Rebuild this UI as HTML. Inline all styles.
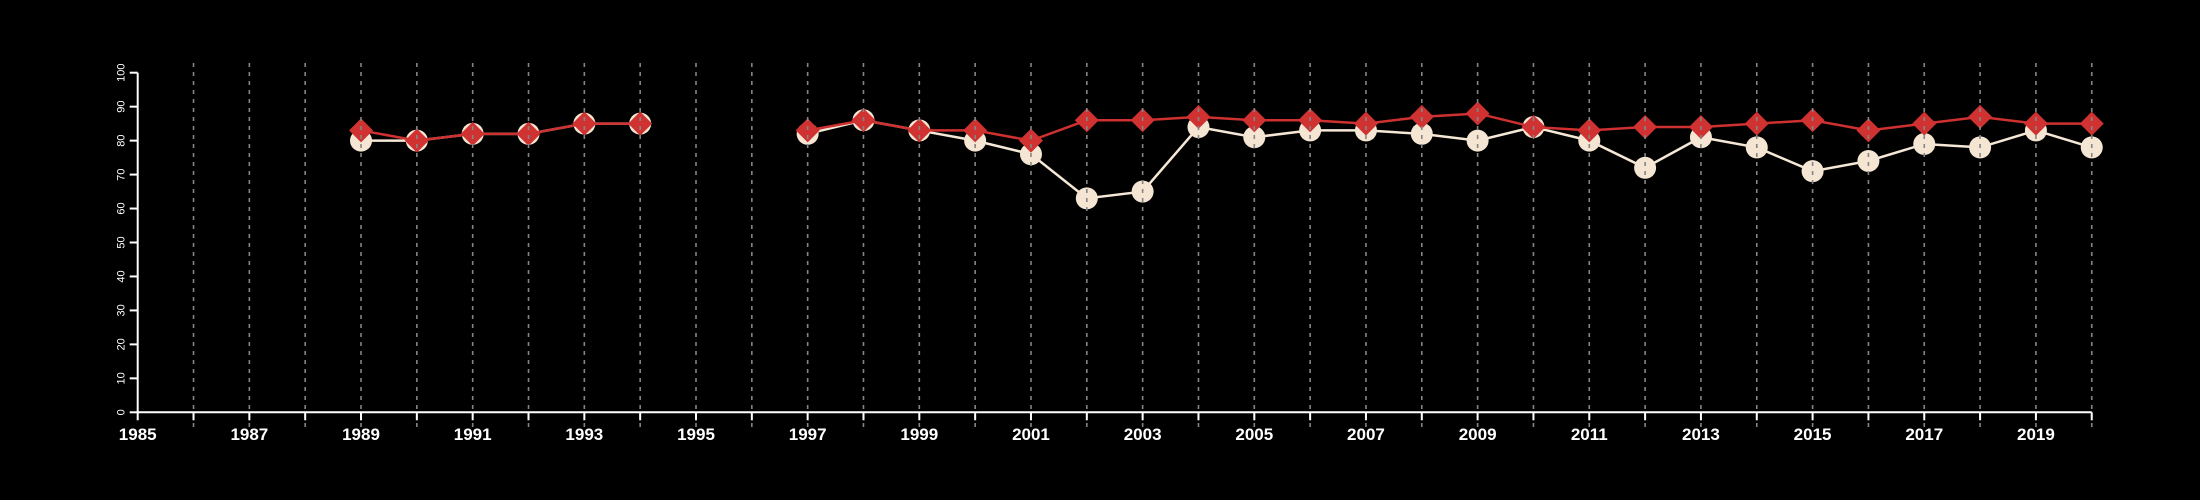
<!DOCTYPE html>
<html><head><meta charset="utf-8">
<style>
html,body{margin:0;padding:0;background:#000;}
svg{display:block;font-family:"Liberation Sans",sans-serif;}
</style></head>
<body>
<svg id="chart" width="2200" height="500" viewBox="0 0 2200 500" xmlns="http://www.w3.org/2000/svg">
<rect width="2200" height="500" fill="#000"/>
<g id="series"></g>
<g id="grid"></g>
<g id="axes"></g>
</svg>
<script>
const years = [1989,1990,1991,1992,1993,1994,1995,1996,1997,1998,1999,2000,2001,2002,2003,2004,2005,2006,2007,2008,2009,2010,2011,2012,2013,2014,2015,2016,2017,2018,2019,2020];
const whiteSeries = [80,80,82,82,85,85,null,null,82,86,83,80,76,63,65,84,81,83,83,82,80,84,80,72,81,78,71,74,79,78,83,78];
const redSeries = [83,80,82,82,85,85,null,null,83,86,83,83,80,86,86,87,86,86,85,87,88,84,83,84,84,85,86,83,85,87,85,85];
const yTicks = [0,10,20,30,40,50,60,70,80,90,100];
const xLabels = [1985,1987,1989,1991,1993,1995,1997,1999,2001,2003,2005,2007,2009,2011,2013,2015,2017,2019];

const NS='http://www.w3.org/2000/svg';
const X0=137.7, XS=55.83, Y0=412.3, YS=3.396;
const xs=v=>X0+(v-1985)*XS;
const ys=v=>Y0-v*YS;
function mk(tag,attrs,parent){const e=document.createElementNS(NS,tag);for(const k in attrs)e.setAttribute(k,attrs[k]);parent.appendChild(e);return e;}
const gS=document.getElementById('series'),gG=document.getElementById('grid'),gA=document.getElementById('axes');

function segments(vals){const segs=[];let cur=[];vals.forEach((v,i)=>{if(v==null){if(cur.length)segs.push(cur);cur=[];}else cur.push([xs(years[i]),ys(v)]);});if(cur.length)segs.push(cur);return segs;}

segments(whiteSeries).forEach(s=>{
  const p=mk('polyline',{points:s.map(q=>q.join(',')).join(' '),fill:'none',stroke:'#f5e8d6','stroke-width':2.5},gS);
  
  
});
whiteSeries.forEach((v,i)=>{if(v==null)return;
  const c=mk('circle',{cx:xs(years[i]),cy:ys(v),r:11,fill:'#f5e6d3'},gS);
  
  
});
segments(redSeries).forEach(s=>{
  const p=mk('polyline',{points:s.map(q=>q.join(',')).join(' '),fill:'none',stroke:'#cf3030','stroke-width':2.5},gS);
  
  
});
redSeries.forEach((v,i)=>{if(v==null)return;
  const x=xs(years[i]),y=ys(v),r=12;
  const d=mk('polygon',{points:`${x},${y-r} ${x+r},${y} ${x},${y+r} ${x-r},${y}`,fill:'#d03232'},gS);
  
  
});
for(let yr=1986;yr<=2020;yr++){
  const l=mk('line',{x1:xs(yr),x2:xs(yr),y1:63,y2:427,stroke:'#858585','stroke-width':1.6,'stroke-dasharray':'4,5'},gG);
  
  
}
const ya=mk('line',{x1:X0,x2:X0,y1:ys(100),y2:Y0,stroke:'#fff','stroke-width':2},gA);


yTicks.forEach(t=>{
  const tk=mk('line',{x1:X0-8,x2:X0,y1:ys(t),y2:ys(t),stroke:'#fff','stroke-width':2},gA);
  
  
  const tx=mk('text',{x:0,y:0,transform:`translate(${X0-13},${ys(t)}) rotate(-90)`,fill:'#fff','font-size':11,'text-anchor':'middle'},gA);
  tx.textContent=t;
  
  
});
const xa=mk('line',{x1:X0,x2:xs(2020),y1:Y0,y2:Y0,stroke:'#fff','stroke-width':2},gA);


for(let yr=1985;yr<=2020;yr++){
  const tk=mk('line',{x1:xs(yr),x2:xs(yr),y1:Y0,y2:Y0+8,stroke:'#fff','stroke-width':2},gA);
  
  
}
xLabels.forEach(l=>{
  const tx=mk('text',{x:xs(l),y:440,fill:'#fff','font-size':17,'font-weight':'bold','text-anchor':'middle'},gA);
  tx.textContent=l;
  
  
});
</script>
</body></html>
